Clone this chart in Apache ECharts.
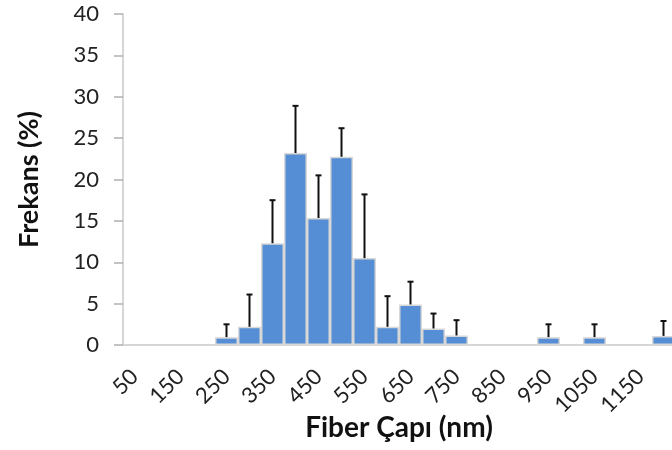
<!DOCTYPE html>
<html>
<head>
<meta charset="utf-8">
<script src="https://cdn.jsdelivr.net/npm/echarts@6/dist/echarts.min.js"></script>
<style>
  html, body { margin: 0; padding: 0; background: #fff; }
  #myChart { width: 672px; height: 450px; }
</style>
</head>
<body>
<div id="myChart"></div>
<script>
// fiber diameter classes (nm)
const categories = ['50', '100', '150', '200', '250', '300', '350', '400', '450', '500', '550', '600',
  '650', '700', '750', '800', '850', '900', '950', '1000', '1050', '1100', '1150', '1200'];
// frequency (%)
const frekans = [0, 0, 0, 0, 0.95, 2.2, 12.3, 23.2, 15.35, 22.75, 10.5, 2.2,
  4.9, 2.0, 1.15, 0, 0, 0, 0.95, 0, 0.95, 0, 0, 1.1];
// upper error (%)
const hata = [0, 0, 0, 0, 1.55, 3.9, 5.2, 5.7, 5.15, 3.45, 7.7, 3.7,
  2.75, 1.8, 1.85, 0, 0, 0, 1.55, 0, 1.55, 0, 0, 1.8];
const yTicks = [0, 5, 10, 15, 20, 25, 30, 35, 40];

let myChart = echarts.init(document.getElementById('myChart'));

const fontFam = 'Lato, "Open Sans", sans-serif';
const errData = categories.map((c, i) => [i, frekans[i], hata[i]]).filter(d => d[2] > 0);

let option = {
  animation: false,
  grid: {
    left: 123,
    top: 14,
    right: -3,
    bottom: 105,
    outerBoundsMode: 'none'
  },
  xAxis: {
    type: 'category',
    data: categories,
    name: 'Fiber Çapı (nm)',
    nameLocation: 'middle',
    nameGap: 69,
    nameMoveOverlap: false,
    nameTextStyle: {
      fontFamily: fontFam,
      fontSize: 28,
      fontWeight: 'bold',
      color: '#111'
    },
    axisLine: { lineStyle: { color: '#c8c8c8', width: 1.5 } },
    axisTick: { interval: 0, length: 7, lineStyle: { color: '#b0b0b0', width: 1.5 } },
    axisLabel: {
      interval: 1,
      rotate: 45,
      margin: 28,
      fontFamily: fontFam,
      fontSize: 22,
      color: '#222'
    }
  },
  yAxis: {
    type: 'value',
    min: yTicks[0],
    max: yTicks[yTicks.length - 1],
    interval: 5,
    name: 'Frekans (%)',
    nameLocation: 'middle',
    nameGap: 80,
    nameTextStyle: {
      fontFamily: fontFam,
      fontSize: 27,
      fontWeight: 'bold',
      color: '#111'
    },
    splitLine: { show: false },
    axisLine: { show: true, lineStyle: { color: '#c8c8c8', width: 1.5 } },
    axisTick: { show: true, length: 9, lineStyle: { color: '#b0b0b0', width: 1.5 } },
    axisLabel: {
      margin: 24,
      fontFamily: fontFam,
      fontSize: 22,
      color: '#222'
    }
  },
  series: [
    {
      name: 'Frekans',
      type: 'bar',
      data: frekans,
      barCategoryGap: '0%',
      itemStyle: {
        color: '#558ed5',
        borderColor: '#d8d8d8',
        borderWidth: 1.5
      },
      z: 2
    },
    {
      name: 'Hata',
      type: 'custom',
      data: errData,
      z: 3,
      renderItem: function (params, api) {
        const x = api.value(0);
        const y = api.value(1);
        const e = api.value(2);
        const base = api.coord([x, y]);
        const top = api.coord([x, y + e]);
        const style = { stroke: '#111', lineWidth: 2 };
        return {
          type: 'group',
          children: [
            { type: 'line', shape: { x1: base[0], y1: base[1], x2: top[0], y2: top[1] }, style: style },
            { type: 'line', shape: { x1: top[0] - 3, y1: top[1], x2: top[0] + 3, y2: top[1] }, style: style }
          ]
        };
      }
    }
  ]
};
myChart.setOption(option);
</script>
</body>
</html>
